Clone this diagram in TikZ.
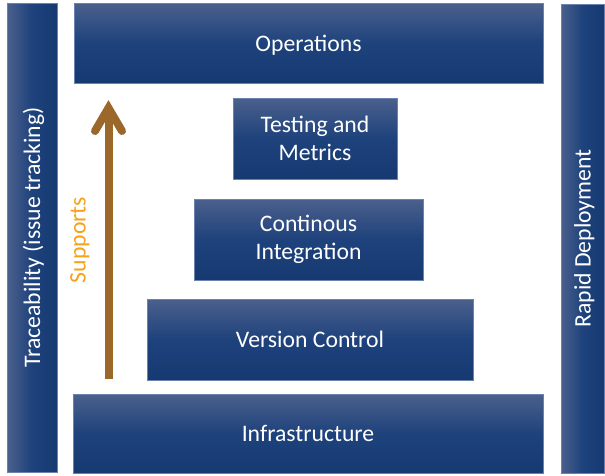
\documentclass[tikz,border=0pt]{standalone}
\usepackage{fontspec}
\setmainfont{Carlito}
\definecolor{btop}{HTML}{4B608C}
\definecolor{bmid}{HTML}{1E427C}
\definecolor{bbot}{HTML}{163971}
\definecolor{bedge}{HTML}{6A82B2}
\definecolor{arrbrown}{HTML}{9B672A}
\definecolor{suporange}{HTML}{F6A21C}
\pgfdeclareverticalshading{boxshade}{100bp}{color(0bp)=(bbot); color(25bp)=(bbot); color(50bp)=(bmid); color(75bp)=(btop); color(100bp)=(btop)}
\begin{document}
\begin{tikzpicture}[x=1pt,y=-1pt,
  blk/.style={draw=bedge, line width=0.8pt, shading=boxshade, text=white,
    font=\fontsize{23.7}{28.5}\selectfont, align=center, inner sep=0pt, outer sep=0pt},
  one/.style={text height=22.5pt, text depth=6.3pt},
  vtxt/.style={rotate=90, text=white, font=\fontsize{23.7}{28.5}\selectfont, inner sep=0pt, one},
  arr/.style={draw=arrbrown, line width=8pt}]
\useasboundingbox (0,0) rectangle (605,475);
% side bars
\node[blk, shading angle=90, minimum width=50pt, minimum height=469pt] (trace) at (32,237.5) {};
\node[vtxt] (tracetext) at (trace.center) {Traceability (issue tracking)};
\node[blk, shading angle=90, minimum width=43pt, minimum height=469pt] (rapid) at (582.5,238.5) {};
\node[vtxt] (rapidtext) at (rapid.center) {Rapid Deployment};
% layers
\node[blk, one, minimum width=469pt, minimum height=80pt] (ops) at (308.5,43) {Operations};
\node[blk, minimum width=164pt, minimum height=81pt] (test) at (315,138.5) {Testing and\\Metrics};
\node[blk, minimum width=229pt, minimum height=81pt] (ci) at (308.5,239.5) {Continous\\Integration};
\node[blk, one, minimum width=326pt, minimum height=81pt] (vc) at (310,339.5) {Version Control};
\node[blk, one, minimum width=470pt, minimum height=79pt] (infra) at (308,433.5) {Infrastructure};
% supports arrow
\coordinate (arrbot) at (108.5,379);
\coordinate (arrtip) at (108.5,108);
\draw[arr, line cap=butt] (arrbot) -- ([yshift=-2pt]arrtip);
\draw[arr, line cap=round, line join=miter] (arrtip) ++(-13.5,23) -- (arrtip) -- ++(13.5,23);
\node[rotate=90, text=suporange, font=\fontsize{23.7}{28.5}\selectfont, inner sep=0pt, one] (supports) at (77.5,240) {Supports};
\end{tikzpicture}
\end{document}
